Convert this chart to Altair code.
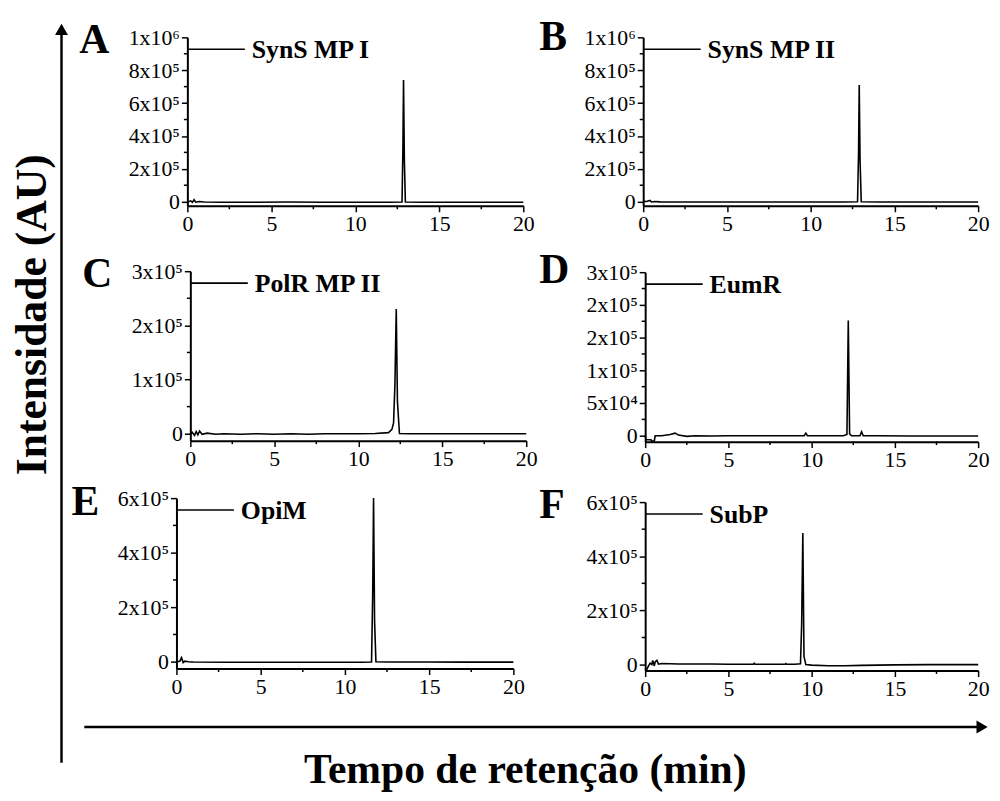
import altair as alt
import pandas as pd

FONT = "Liberation Serif"

# ---------------- data ----------------
names = ["SynS MP I", "SynS MP II", "PolR MP II", "EumR", "OpiM", "SubP"]
letters = ["A", "B", "C", "D", "E", "F"]
x_title = "Tempo de retenção (min)"
y_title = "Intensidade (AU)"

tA = [0, 0.2, 0.3, 0.4, 0.5, 0.7, 1.0, 2.0, 4.0, 6.0, 8.0, 10.0, 12.0, 12.78, 12.83, 12.87, 12.92, 12.98, 14.0, 16.0, 18.0, 20.0]
yA = [-3000, 5000, -4000, 12000, -3000, 1000, -2000, -3000, -3000, -2000, -3000, -3000, -3000, -2000, 300000, 740000, 250000, -2000, -3000, -3000, -3000, -3000]

tB = [0, 0.2, 0.4, 0.5, 0.7, 1.0, 3, 6, 9, 12, 12.8, 12.86, 12.9, 12.95, 13.02, 14, 17, 20]
yB = [2000, 1000, 8000, -2000, 1000, -1000, -2000, -2000, -2000, -2000, 0, 300000, 710000, 250000, 0, -2000, -2000, -2000]

tC = [0, 0.1, 0.25, 0.35, 0.45, 0.55, 0.7, 1.0, 1.5, 2, 3, 4, 5, 6, 7, 8, 9, 10, 11, 11.8, 12.0, 12.1, 12.18, 12.26, 12.33, 12.45, 13, 15, 17, 20]
yC = [-2000, 3000, -3000, 4000, -2000, 5000, -1000, 1000, -1000, 0, -1000, 0, -1000, 0, -1000, 0, 0, 0, 500, 2000, 8000, 20000, 90000, 230000, 60000, 500, 0, 0, 0, 0]

tD = [0, 0.05, 0.35, 0.38, 0.55, 0.6, 1.0, 1.5, 1.8, 2.0, 2.5, 3, 4, 5, 6, 7, 8, 9, 9.55, 9.65, 9.75, 10, 11, 11.9, 12.12, 12.2, 12.28, 12.4, 12.9, 13.0, 13.1, 14, 16, 18, 20]
yD = [0, -6000, -6000, -8000, -8000, 0, 0, 2000, 4000, 1000, -1000, 0, -500, 0, 0, 0, 0, 0, 0, 4000, 0, 0, 0, 0, 2000, 176000, 3000, 0, 0, 6000, 0, 0, -500, -500, -500]

tE = [0, 0.2, 0.3, 0.4, 0.5, 0.7, 1, 3, 5, 7, 9, 11, 11.58, 11.65, 11.7, 11.76, 11.84, 12.5, 15, 17, 20]
yE = [0, 2000, 15000, -3000, 2000, 0, -1000, -2000, -2000, -2000, -2000, -2000, -1000, 250000, 600000, 150000, 0, -1000, -1000, -1500, -1500]

tF = [0, 0.1, 0.2, 0.3, 0.4, 0.45, 0.55, 0.6, 0.7, 0.8, 1.0, 1.5, 2.0, 3, 4, 5, 6, 6.5, 6.55, 6.6, 7, 8, 8.4, 8.45, 8.5, 9, 9.33, 9.4, 9.47, 9.54, 9.65, 10, 11, 12, 13, 15, 17, 20]
yF = [-20000, -18000, -5000, 5000, 0, 15000, -5000, 10000, 16000, 2000, 4000, 3000, 2000, 2000, 2000, 1000, 1000, 1000, 5000, 1000, 1000, 1000, 1000, 4000, 1000, 1000, 3000, 150000, 486000, 30000, 0, -2000, -4000, -4000, -3000, -1000, 0, 0]

x_ticks = [0, 5, 10, 15, 20]
x_minor = [2.5, 7.5, 12.5, 17.5]

y_ticks_AB = [0, 200000, 400000, 600000, 800000, 1000000]
y_labels_AB = ["0", "2x10⁵", "4x10⁵", "6x10⁵", "8x10⁵", "1x10⁶"]
y_minor_AB = [100000, 300000, 500000, 700000, 900000]

y_ticks_C = [0, 100000, 200000, 300000]
y_labels_C = ["0", "1x10⁵", "2x10⁵", "3x10⁵"]
y_minor_C = [50000, 150000, 250000]

y_ticks_D = [0, 50000, 100000, 150000, 200000, 250000]
y_labels_D = ["0", "5x10⁴", "1x10⁵", "2x10⁵", "2x10⁵", "3x10⁵"]
y_minor_D = [25000, 75000, 125000, 175000, 225000]

y_ticks_EF = [0, 200000, 400000, 600000]
y_labels_EF = ["0", "2x10⁵", "4x10⁵", "6x10⁵"]
y_minor_EF = [100000, 300000, 500000]

one = pd.DataFrame({"k": [0]})

# grid cell sizes (columns / rows)
COL_W = [353, 338]
ROW_H = [170, 185, 174]


def label_expr(ticks, labels):
    parts = [f"datum.value == {v} ? '{l}'" for v, l in zip(ticks, labels)]
    return " : ".join(parts) + " : ''"


def panel(t, y, name, letter, yticks, ylabels, yminor, ydom, cell, rect, letter_xy, extra=None):
    CW, CH = cell
    ox, oy, w, h = rect
    df = pd.DataFrame({"t": t, "y": y})
    xs = alt.Scale(domain=[0, 20], nice=False, zero=False, range=[ox, ox + w])
    ys = alt.Scale(domain=ydom, nice=False, zero=False, range=[oy + h, oy])
    common = dict(title=None, grid=False, domainColor="black", domainWidth=2,
                  tickColor="black", tickWidth=1.5, tickSize=6,
                  labelFont=FONT, labelFontSize=22, labelColor="black",
                  labelFlush=False, labelOverlap=False)
    xaxis = alt.Axis(values=x_ticks, labelPadding=2, offset=-(CH - (oy + h)), **common)
    yaxis = alt.Axis(values=yticks, labelExpr=label_expr(yticks, ylabels), labelPadding=2, offset=-ox, **common)

    line = alt.Chart(df).mark_line(color="black", strokeWidth=1.6, interpolate="linear").encode(
        x=alt.X("t:Q", scale=xs, axis=xaxis),
        y=alt.Y("y:Q", scale=ys, axis=yaxis),
    )
    ym = alt.Chart(pd.DataFrame({"y": yminor})).mark_rule(color="black", strokeWidth=1.5).encode(
        y=alt.Y("y:Q", scale=ys, axis=yaxis), x=alt.value(ox), x2=alt.value(ox - 3.5))
    xm = alt.Chart(pd.DataFrame({"t": x_minor})).mark_rule(color="black", strokeWidth=1.5).encode(
        x=alt.X("t:Q", scale=xs, axis=xaxis), y=alt.value(oy + h), y2=alt.value(oy + h + 3.5))
    let = alt.Chart(pd.DataFrame({"l": [letter]})).mark_text(
        font=FONT, fontWeight="bold", fontSize=42, align="left", baseline="alphabetic", color="black"
    ).encode(text="l:N", x=alt.value(ox + letter_xy[0]), y=alt.value(oy + letter_xy[1]))
    leg_line = alt.Chart(one).mark_rule(color="black", strokeWidth=1.6).encode(
        x=alt.value(ox), x2=alt.value(ox + 58), y=alt.value(oy + 12))
    leg_text = alt.Chart(pd.DataFrame({"n": [name]})).mark_text(
        font=FONT, fontWeight="bold", fontSize=26, align="left", baseline="middle", color="black"
    ).encode(text="n:N", x=alt.value(ox + 65), y=alt.value(oy + 13))
    layers = [line, ym, xm, let, leg_line, leg_text]
    if extra:
        layers += extra
    return alt.layer(*layers).properties(width=CW, height=CH)


# decorations: vertical arrow + y title (relative to panel A cell origin, page 178,35)
v_line = alt.Chart(one).mark_rule(color="black", strokeWidth=2.5).encode(
    x=alt.value(-116), y=alt.value(-4), y2=alt.value(732))
v_head = alt.Chart(one).mark_point(shape="triangle-up", filled=True, color="black", size=170, opacity=1).encode(
    x=alt.value(-116), y=alt.value(-8))
v_text = alt.Chart(pd.DataFrame({"s": [y_title]})).mark_text(
    font=FONT, fontWeight="bold", fontSize=44, angle=270, align="center", baseline="middle", color="black"
).encode(text="s:N", x=alt.value(-145), y=alt.value(280))

# horizontal arrow + x title (relative to panel E cell origin, page 178,498)
h_line = alt.Chart(one).mark_rule(color="black", strokeWidth=2.5).encode(
    x=alt.value(-93), x2=alt.value(810), y=alt.value(231))
h_head = alt.Chart(one).mark_point(shape="triangle-right", filled=True, color="black", size=170, opacity=1).encode(
    x=alt.value(813), y=alt.value(231))
h_text = alt.Chart(pd.DataFrame({"s": [x_title]})).mark_text(
    font=FONT, fontWeight="bold", fontSize=42, align="center", baseline="middle", color="black"
).encode(text="s:N", x=alt.value(352), y=alt.value(274))

pA = panel(tA, yA, names[0], letters[0], y_ticks_AB, y_labels_AB, y_minor_AB, [-25000, 1000000],
           (COL_W[0], ROW_H[0]), (11, 0, 339, 170), (-109, 16), extra=[v_line, v_head, v_text])
pB = panel(tB, yB, names[1], letters[1], y_ticks_AB, y_labels_AB, y_minor_AB, [-25000, 1000000],
           (COL_W[1], ROW_H[0]), (0, 0, 338, 170), (-105, 13))
pC = panel(tC, yC, names[2], letters[2], y_ticks_C, y_labels_C, y_minor_C, [-12800, 300000],
           (COL_W[0], ROW_H[1]), (14, 11, 339, 171), (-109, 16))
pD = panel(tD, yD, names[3], letters[3], y_ticks_D, y_labels_D, y_minor_D, [-9000, 250000],
           (COL_W[1], ROW_H[1]), (2, 12, 336, 171), (-107, 11))
pE = panel(tE, yE, names[4], letters[4], y_ticks_EF, y_labels_EF, y_minor_EF, [-25000, 600000],
           (COL_W[0], ROW_H[2]), (0, 0, 340, 172), (-106, 17), extra=[h_line, h_head, h_text])
pF = panel(tF, yF, names[5], letters[5], y_ticks_EF, y_labels_EF, y_minor_EF, [-22000, 600000],
           (COL_W[1], ROW_H[2]), (2, 4, 336, 170), (-107, 16))

chart = alt.concat(
    pA, pB, pC, pD, pE, pF, columns=2, bounds="flush",
    spacing={"row": 55, "column": 118}
).configure_view(stroke=None).properties(
    padding={"left": 3, "top": 5, "right": 3, "bottom": 3}, background="white"
)

chart.save("out.html", embed_options={"renderer": "svg", "actions": False})
